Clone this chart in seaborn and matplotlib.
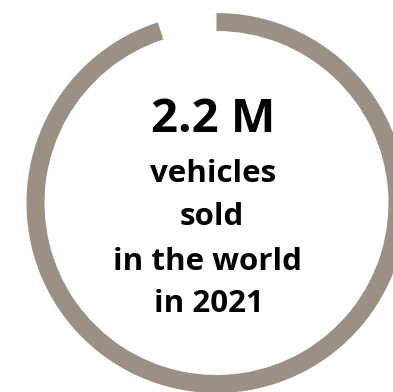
import matplotlib
matplotlib.use("Agg")
import matplotlib.pyplot as plt
import seaborn as sns

# data
segments = ["sold share", "gap"]
values = [95, 5]
headline = "2.2 M"
caption_lines = ["vehicles", "sold", "in the world", "in 2021"]

sns.set_theme(style="white")
plt.rcParams["font.family"] = ["Open Sans", "DejaVu Sans"]

W, H = 393, 392
fig = plt.figure(figsize=(W / 100, H / 100), dpi=100)
ax = fig.add_axes([0, 0, 1, 1])

ring_color = "#9b9083"
colors = [ring_color, "none"]
R_px = 190.0
width_px = 18.0
cx, cy = 216.5, 203.0  # pixel centre (from top-left)

ax.pie(values, colors=colors, startangle=90, counterclock=False,
       radius=1.0, wedgeprops=dict(width=width_px / R_px, linewidth=0))

ax.set_aspect("auto")
ax.set_xlim(-cx / R_px, (W - cx) / R_px)
ax.set_ylim(-(H - cy) / R_px, cy / R_px)
ax.axis("off")

def to_data(px, py):
    return (px - cx) / R_px, (cy - py) / R_px

x, y = to_data(213, 132)
ax.text(x, y, headline, ha="center", va="baseline", fontsize=34,
        fontweight="bold", color="black")

baselines = [182, 225, 270, 312]
xcent = [213, 212, 207, 209]
for line, by, bx in zip(caption_lines, baselines, xcent):
    x, y = to_data(bx, by)
    ax.text(x, y, line, ha="center", va="baseline", fontsize=22.5,
            fontweight="bold", color="black")

fig.savefig("out.png", dpi=100)
